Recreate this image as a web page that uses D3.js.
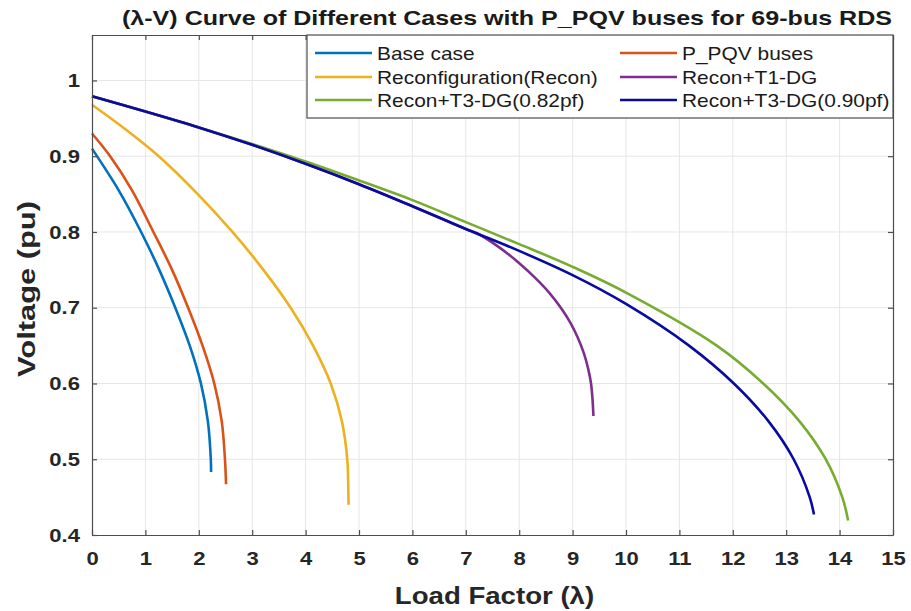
<!DOCTYPE html>
<html>
<head>
<meta charset="utf-8">
<script src="https://cdn.jsdelivr.net/npm/d3@7/dist/d3.min.js"></script>
<style>
  html, body { margin: 0; padding: 0; background: #fff; }
  svg { display: block; font-family: "Liberation Sans", Arial, sans-serif; }
</style>
</head>
<body>
<svg id="chart" width="911" height="611"></svg>
<script>
// Load factor (lambda) / voltage (pu) pairs for each case
const baseCase = [[0,0.910],[0.5,0.855],[0.92,0.800],[1.26,0.750],[1.56,0.700],[1.83,0.650],[2.04,0.600],[2.17,0.550],[2.225,0.500],[2.23,0.483]];
const pPqvBuses = [[0,0.930],[0.34,0.900],[0.75,0.855],[1.15,0.800],[1.50,0.750],[1.80,0.700],[2.07,0.650],[2.29,0.600],[2.43,0.550],[2.49,0.500],[2.51,0.467]];
const recon = [[0,0.968],[0.6,0.937],[1.25,0.900],[1.98,0.850],[2.63,0.800],[3.21,0.750],[3.72,0.700],[4.14,0.650],[4.47,0.600],[4.68,0.550],[4.78,0.500],[4.80,0.460],[4.805,0.440]];
const reconT1 = [[0,0.979],[1,0.959],[2,0.938],[3,0.915],[4,0.890],[5,0.863],[6,0.834],[7,0.804],[7.22,0.798],[7.62,0.780],[7.98,0.760],[8.29,0.740],[8.56,0.720],[8.78,0.700],[8.96,0.680],[9.10,0.660],[9.21,0.640],[9.29,0.620],[9.345,0.600],[9.372,0.580],[9.39,0.557]];
const reconT3pf082 = [[0,0.979],[1,0.959],[2,0.938],[3,0.916],[4,0.893],[5,0.868],[6,0.842],[7,0.813],[8,0.784],[9,0.754],[10,0.720],[11.7,0.650],[12.57,0.600],[13.25,0.550],[13.74,0.500],[14.05,0.450],[14.16,0.419]];
const reconT3pf090 = [[0,0.979],[1,0.959],[2,0.938],[3,0.915],[4,0.890],[5,0.863],[6,0.834],[7,0.804],[8,0.775],[9,0.743],[10,0.705],[11.18,0.650],[12.02,0.600],[12.67,0.550],[13.14,0.500],[13.44,0.450],[13.52,0.427]];

const seriesNames = ["Base case","P_PQV buses","Reconfiguration(Recon)","Recon+T1-DG","Recon+T3-DG(0.82pf)","Recon+T3-DG(0.90pf)"];
const seriesData = [baseCase, pPqvBuses, recon, reconT1, reconT3pf082, reconT3pf090];
const seriesColors = ["#0072BD","#D95319","#EDB120","#7E2F8E","#77AC30","#0a0aa0"];

const xTicks = d3.range(0, 16, 1);
const yTicks = [0.4,0.5,0.6,0.7,0.8,0.9,1];

const titleText = "(\u03bb-V) Curve of Different Cases with P_PQV buses for 69-bus RDS";
const xLabel = "Load Factor (\u03bb)";
const yLabel = "Voltage (pu)";

const svg = d3.select("#chart");
const plotLeft = 92, plotRight = 893, plotTop = 35, plotBottom = 535;

const x = d3.scaleLinear().domain([0, 15]).range([plotLeft, plotRight]);
const y = d3.scaleLinear().domain([0.4, 1.06]).range([plotBottom, plotTop]);

// widen text glyphs horizontally by factor k (or to a fixed length)
function widen(sel, k, fixed) {
  sel.each(function () {
    const w = this.getComputedTextLength();
    d3.select(this).attr("textLength", fixed || w * k).attr("lengthAdjust", "spacingAndGlyphs");
  });
}

// grid
const grid = svg.append("g").attr("stroke", "#e6e6e6").attr("stroke-width", 1);
grid.selectAll("line.vx").data(xTicks.slice(1, -1)).join("line")
  .attr("x1", d => x(d)).attr("x2", d => x(d)).attr("y1", plotTop).attr("y2", plotBottom);
grid.selectAll("line.hy").data(yTicks.slice(1)).join("line")
  .attr("y1", d => y(d)).attr("y2", d => y(d)).attr("x1", plotLeft).attr("x2", plotRight);

// curves
const lineGen = d3.line().x(d => x(d[0])).y(d => y(d[1])).curve(d3.curveCatmullRom.alpha(0.5));
svg.append("g").selectAll("path").data(seriesData).join("path")
  .attr("d", d => lineGen(d))
  .attr("fill", "none")
  .attr("stroke", (d, i) => seriesColors[i])
  .attr("stroke-width", 2.6)
  .attr("stroke-linejoin", "round");

// axes with inward ticks on all four sides
const axisColor = "#4d4d4d";
const tickLen = 5;
const xb = svg.append("g").attr("transform", `translate(0,${plotBottom})`)
  .call(d3.axisBottom(x).tickValues(xTicks).tickSizeInner(-tickLen).tickSizeOuter(0).tickPadding(17));
const xt = svg.append("g").attr("transform", `translate(0,${plotTop})`)
  .call(d3.axisTop(x).tickValues(xTicks).tickSizeInner(-tickLen).tickSizeOuter(0).tickFormat(""));
const yl = svg.append("g").attr("transform", `translate(${plotLeft},0)`)
  .call(d3.axisLeft(y).tickValues(yTicks).tickSizeInner(-tickLen).tickSizeOuter(0).tickPadding(12).tickFormat(d => d === 1 ? "1" : d3.format(".1f")(d)));
const yr = svg.append("g").attr("transform", `translate(${plotRight},0)`)
  .call(d3.axisRight(y).tickValues(yTicks).tickSizeInner(-tickLen).tickSizeOuter(0).tickFormat(""));
[xb, xt, yl, yr].forEach(g => {
  g.select(".domain").attr("stroke", axisColor).attr("stroke-width", 1.2);
  g.selectAll(".tick line").attr("stroke", axisColor).attr("stroke-width", 1.2);
  g.selectAll(".tick text").attr("fill", "#262626").attr("font-size", 19).attr("font-weight", "bold")
    .attr("font-family", "'Liberation Sans', Arial, sans-serif");
  widen(g.selectAll(".tick text"), 1.16);
});

// legend
const lg = svg.append("g");
lg.append("rect").attr("x", 307).attr("y", plotTop).attr("width", plotRight - 307).attr("height", 83)
  .attr("fill", "#fff").attr("stroke", axisColor).attr("stroke-width", 1.2);
const colX = [312, 617];
const rowY = [53, 77, 100];
seriesNames.forEach((name, i) => {
  const cx = colX[i % 2], cy = rowY[Math.floor(i / 2)];
  lg.append("line").attr("x1", cx + 3).attr("x2", cx + 60).attr("y1", cy).attr("y2", cy)
    .attr("stroke", seriesColors[i]).attr("stroke-width", 2.6);
  const t = lg.append("text").attr("x", cx + 65).attr("y", cy).attr("dy", "0.36em")
    .attr("font-size", 19).attr("fill", "#1a1a1a").text(name);
  widen(t, 1.1);
});

// titles
const tt = svg.append("text").attr("x", 507).attr("y", 25).attr("text-anchor", "middle")
  .attr("font-size", 21).attr("font-weight", "bold").attr("fill", "#1a1a1a").text(titleText);
widen(tt, 1, 770);
const xt2 = svg.append("text").attr("x", (plotLeft + plotRight) / 2 + 2).attr("y", 604).attr("text-anchor", "middle")
  .attr("font-size", 23).attr("font-weight", "bold").attr("fill", "#262626").text(xLabel);
widen(xt2, 1.2);
const yt2 = svg.append("text").attr("transform", `translate(35,${(plotTop + plotBottom) / 2 + 4}) rotate(-90)`)
  .attr("text-anchor", "middle").attr("font-size", 23).attr("font-weight", "bold").attr("fill", "#262626").text(yLabel);
widen(yt2, 1, 176);
</script>
</body>
</html>
